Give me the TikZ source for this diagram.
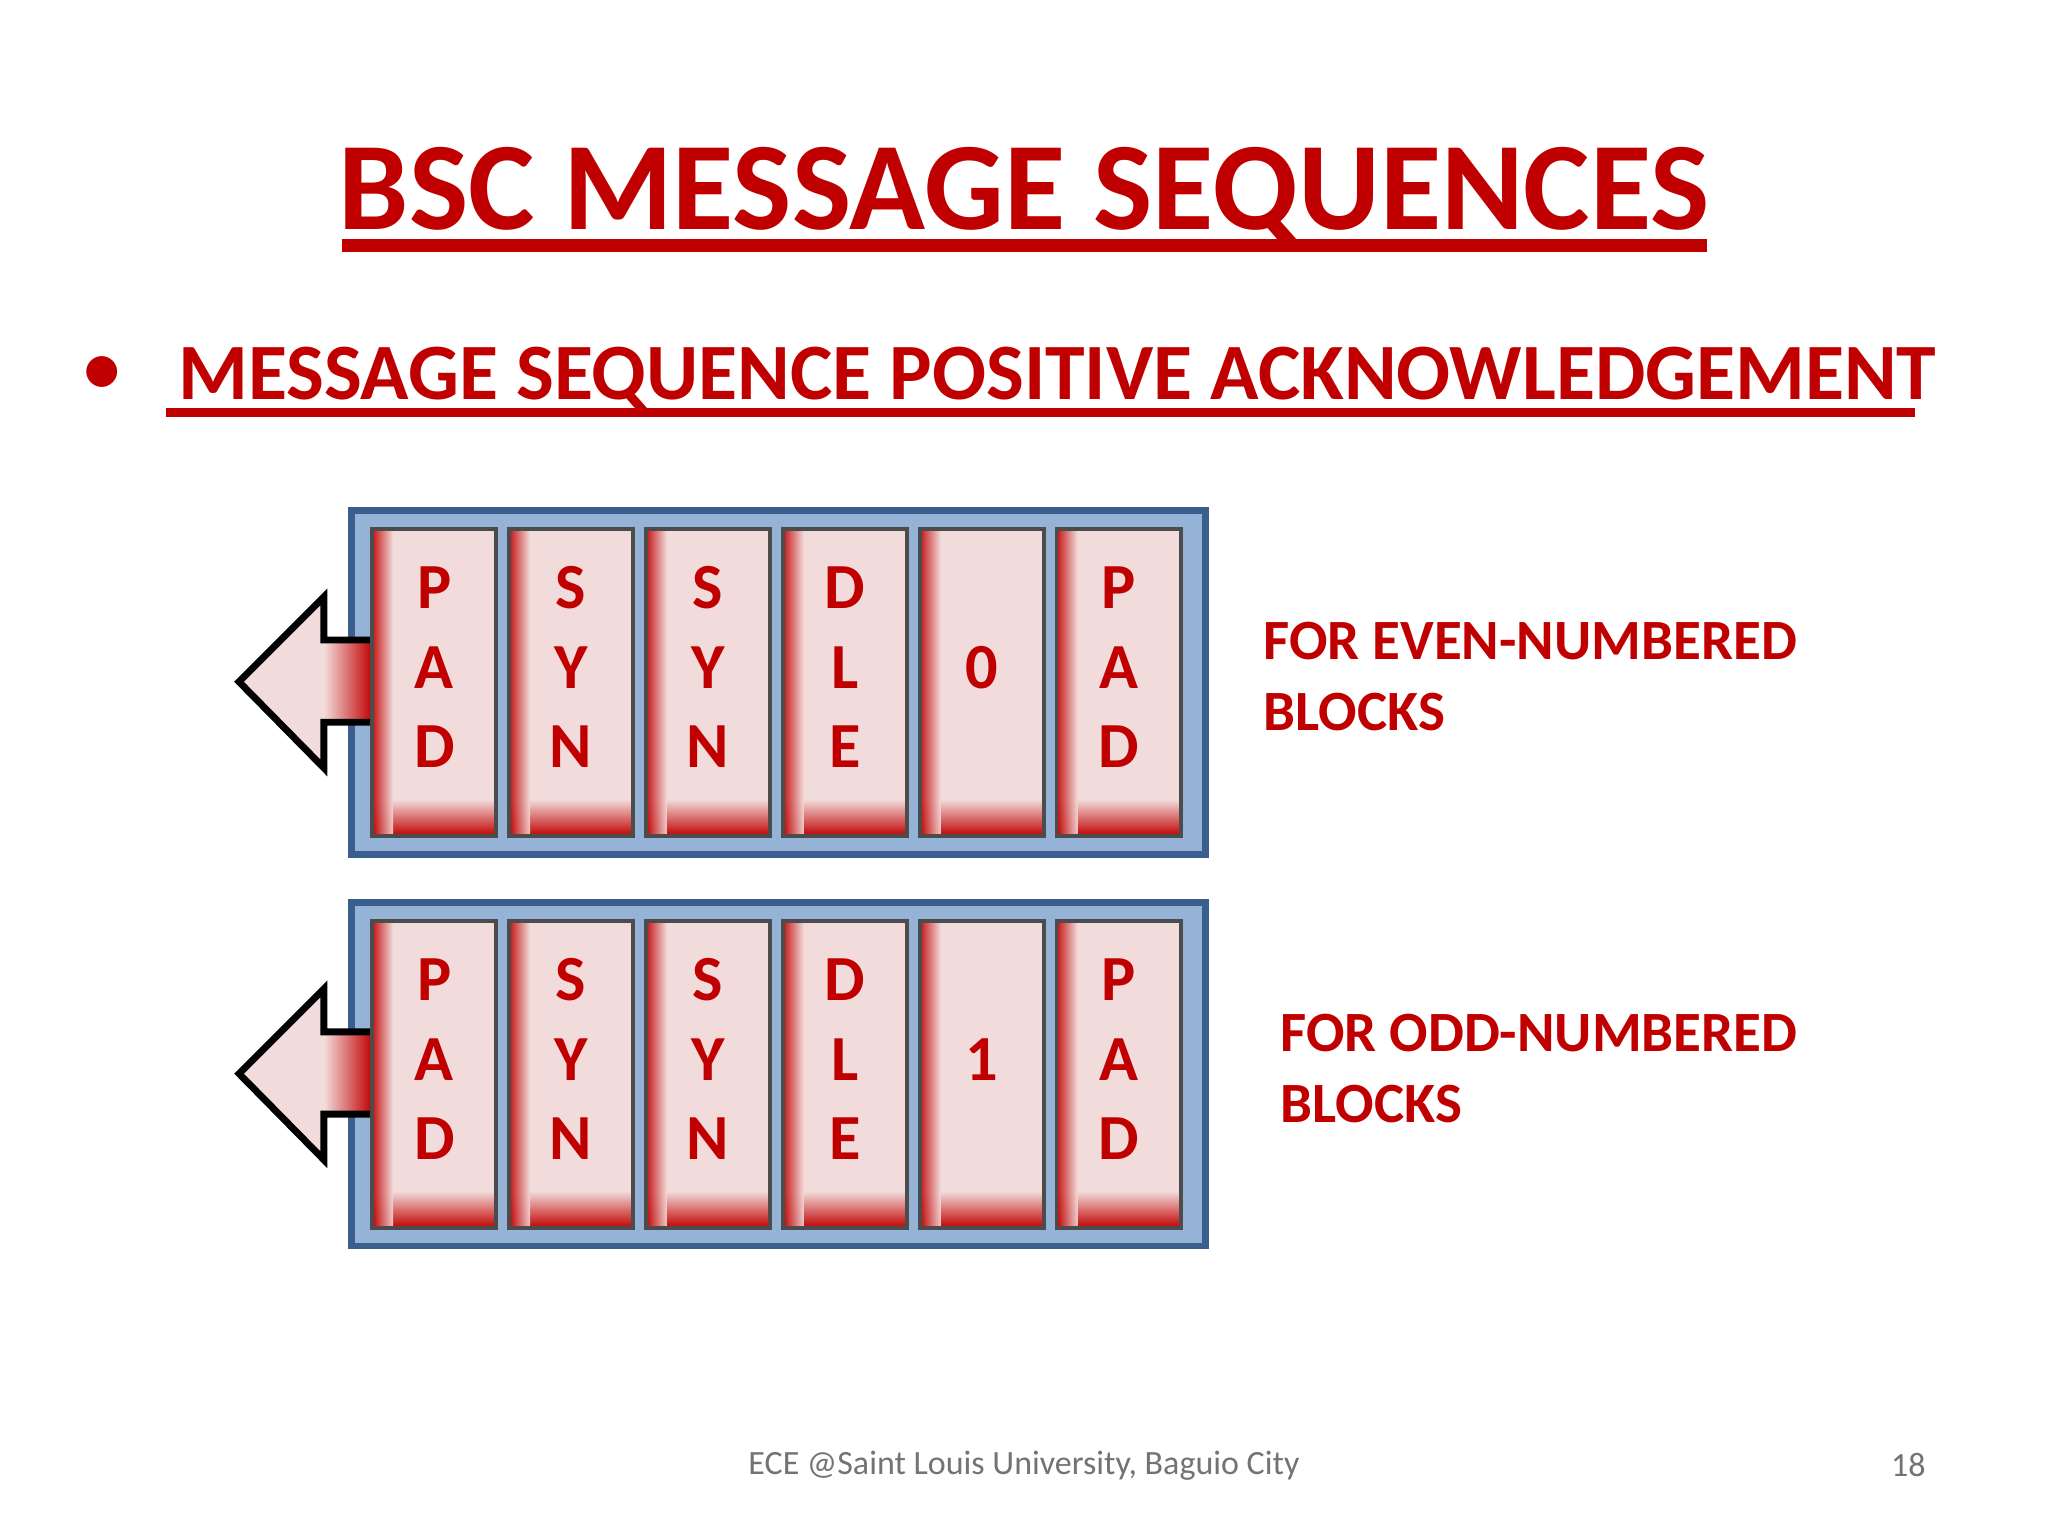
\documentclass[tikz,border=0pt]{standalone}
\usepackage{fontspec}
\setmainfont{Carlito}
\definecolor{dred}{HTML}{C00000}
\definecolor{pinkc}{HTML}{F2DCDB}
\definecolor{bluef}{HTML}{95B3D7}
\definecolor{blueb}{HTML}{3A5F8F}
\begin{document}
\begin{tikzpicture}[x=0.01cm,y=-0.01cm,
  lbl/.style={text=dred,font=\bfseries\fontsize{14}{16}\selectfont},
  side/.style={text=dred,font=\bfseries\fontsize{12.4}{15.5}\selectfont,anchor=west,align=left},
  frame/.style={fill=bluef,draw=blueb,line width=1.5pt}]
\useasboundingbox (0,0) rectangle (1568,1176);
\node[text=dred,font=\bfseries\fontsize{27.3}{32}\selectfont] (title) at (784,150) {BSC MESSAGE SEQUENCES};
\draw[dred,line width=3pt] (262,188) -- (1307,188);
\node[text=dred,font=\fontsize{19}{22}\selectfont] (bul) at (78,288) {•};
\node[text=dred,font=\bfseries\fontsize{17.4}{20}\selectfont,anchor=west] (sub) at (124,290) {MESSAGE SEQUENCE POSITIVE ACKNOWLEDGEMENT};
\draw[dred,line width=2pt] (127,316) -- (1466,316);
\foreach \oy/\mid/\txt/\tx in {0/0/{FOR EVEN-NUMBERED\\BLOCKS}/955, 300/1/{FOR ODD-NUMBERED\\BLOCKS}/968}{
  \begin{scope}[yshift=-\oy*0.01cm]
  \draw[frame] (269,391) rectangle (923,654);
  \fill[pinkc] (183,522) -- (248,457) -- (248,490) -- (285,490) -- (285,553) -- (248,553) -- (248,588) -- cycle;
  \shade[left color=pinkc,right color=dred] (248,490) rectangle (285,553);
  \draw[black,line width=1.5pt] (285,490) -- (248,490) -- (248,457) -- (183,522) -- (248,588) -- (248,553) -- (285,553);
  \foreach \i/\a/\b/\c in {0/P/A/D,1/S/Y/N,2/S/Y/N,3/D/L/E,4//\mid/,5/P/A/D}{
    \pgfmathsetmacro{\xl}{285+104.8*\i}
    \fill[pinkc] (\xl,405) rectangle ++(95,235);
    \shade[top color=pinkc,bottom color=dred] (\xl,612) rectangle ++(95,28);
    \shade[left color=dred,right color=pinkc,opacity=0.9] (\xl,405) rectangle ++(16,235);
    \draw[black!70,line width=0.8pt] (\xl,405) rectangle ++(95,235);
    \node[lbl] at (\xl+47.5,450) {\a};
    \node[lbl] at (\xl+47.5,511) {\b};
    \node[lbl] at (\xl+47.5,572) {\c};
  }
  \node[side] at (\tx,518) {\txt};
  \end{scope}
}
\node[text=black!55,font=\fontsize{7.4}{9}\selectfont] (foot) at (784,1122) {ECE @Saint Louis University, Baguio City};
\node[text=black!55,font=\fontsize{7.4}{9}\selectfont] (pg) at (1461,1122) {18};
\end{tikzpicture}
\end{document}
